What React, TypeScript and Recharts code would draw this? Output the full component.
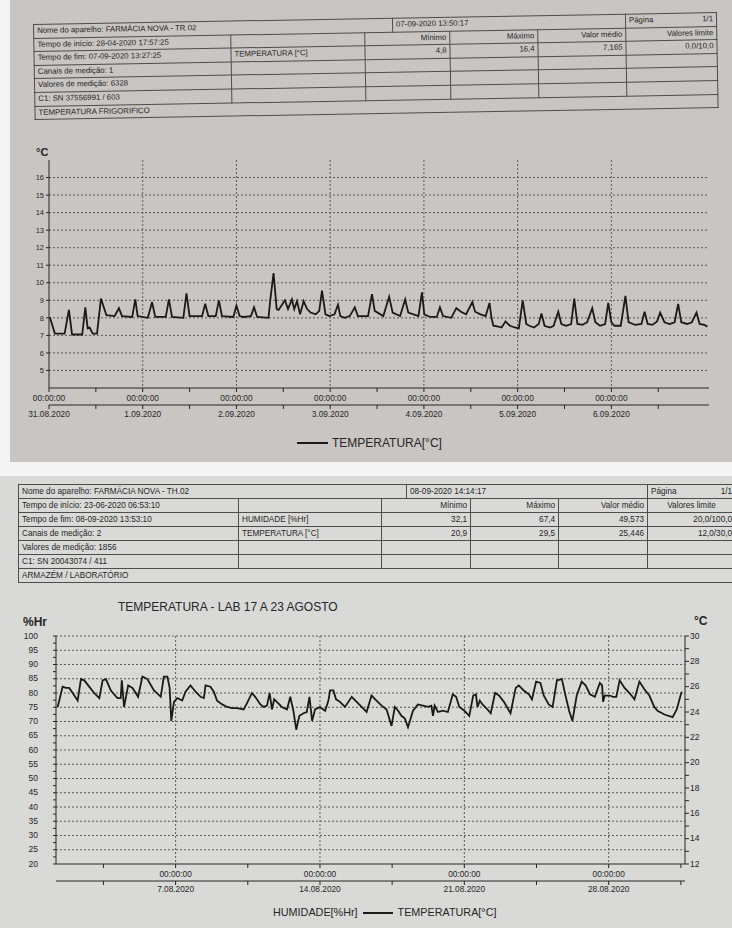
import React from 'react';
import { LineChart, Line, XAxis, YAxis, CartesianGrid } from 'recharts';

// ---------- report 1: FARMÁCIA NOVA - TR.02 (hours after 31.08.2020 00:00) ----------
const trHours = [0.2, 1.5, 4.0, 5.1, 5.9, 8.5, 9.3, 9.9, 10.4, 11.2, 12.3, 13.3, 14.7, 16.8, 17.9, 18.7, 21.3, 22.1, 22.7, 25.3, 26.4, 27.2, 29.9, 30.7, 31.5, 34.4, 35.2, 36.0, 39.2, 40.0, 40.8, 42.7, 43.5, 44.3, 47.2, 48.0, 48.8, 49.8, 51.7, 52.5, 53.3, 56.2, 56.7, 57.5, 58.3, 58.8, 60.4, 61.2, 62.2, 62.8, 63.5, 64.3, 65.2, 66.1, 67.0, 68.3, 69.2, 69.9, 70.8, 71.8, 73.1, 74.0, 74.6, 75.7, 77.0, 78.3, 79.1, 81.7, 82.7, 83.4, 85.6, 87.1, 88.0, 89.9, 91.2, 92.0, 94.6, 95.5, 96.1, 97.6, 99.3, 100.1, 100.9, 103.0, 104.3, 105.5, 106.8, 108.4, 109.1, 110.5, 111.8, 112.8, 113.3, 113.8, 115.1, 115.9, 116.9, 118.0, 119.3, 120.3, 121.3, 122.2, 123.0, 124.2, 125.4, 126.1, 126.9, 128.3, 129.2, 130.4, 131.2, 132.4, 133.7, 134.5, 135.3, 136.6, 137.8, 139.1, 139.9, 141.1, 142.4, 143.2, 144.0, 144.8, 146.4, 147.6, 148.4, 150.1, 151.7, 152.5, 153.3, 154.5, 155.7, 156.5, 157.6, 158.9, 160.2, 161.1, 161.9, 163.4, 164.6, 165.8, 166.6, 167.8, 168.6];
const trTemp = [8.05, 7.1, 7.1, 8.45, 7.05, 7.05, 8.6, 7.4, 7.45, 7.1, 7.1, 9.1, 8.15, 8.1, 8.55, 8.1, 8.05, 9.05, 8.1, 8.0, 8.9, 8.05, 8.05, 9.05, 8.05, 8.0, 9.4, 8.1, 8.1, 8.8, 8.1, 8.1, 9.0, 8.1, 8.05, 8.7, 8.1, 8.05, 8.1, 8.6, 8.05, 8.0, 9.1, 10.55, 8.5, 8.45, 9.0, 8.5, 9.05, 8.5, 8.95, 8.2, 8.95, 8.5, 8.3, 8.2, 8.4, 9.55, 8.2, 8.1, 8.2, 8.75, 8.1, 8.0, 8.1, 8.6, 8.1, 8.1, 9.35, 8.4, 8.1, 9.2, 8.3, 8.1, 9.05, 8.3, 8.1, 9.45, 8.2, 8.05, 8.05, 8.6, 8.1, 8.0, 8.55, 8.35, 8.2, 8.9, 8.35, 8.2, 8.1, 8.85, 8.0, 7.55, 7.5, 7.45, 7.8, 7.55, 7.45, 7.4, 9.0, 7.65, 7.55, 7.45, 7.65, 8.25, 7.55, 7.45, 7.55, 8.35, 7.65, 7.55, 7.65, 9.1, 7.65, 7.6, 7.75, 8.55, 7.75, 7.55, 7.65, 8.85, 7.75, 7.55, 7.55, 9.25, 7.75, 7.6, 7.65, 8.35, 7.65, 7.6, 7.8, 8.3, 7.75, 7.65, 7.75, 8.8, 7.75, 7.65, 7.75, 8.3, 7.65, 7.6, 7.5];
const trDayTicks = [0, 24, 48, 72, 96, 120, 144];
const trDayLabels = ['31.08.2020', '1.09.2020', '2.09.2020', '3.09.2020', '4.09.2020', '5.09.2020', '6.09.2020'];
const trHalfDayTicks = [0, 12, 24, 36, 48, 60, 72, 84, 96, 108, 120, 132, 144, 156];
const trTempTicks = [5, 6, 7, 8, 9, 10, 11, 12, 13, 14, 15, 16];

const trDevice = 'Nome do aparelho: FARMÁCIA NOVA - TR.02';
const trPrinted = '07-09-2020 13:50:17';
const trInfo = ['Tempo de início: 28-04-2020 17:57:25', 'Tempo de fim: 07-09-2020 13:27:25', 'Canais de medição: 1', 'Valores de medição: 6328', 'C1: SN 37556991 / 603'];
const trChannels = ['TEMPERATURA [°C]'];
const trStats = [['4,8', '16,4', '7,165', '0,0/10,0']];
const trFooter = 'TEMPERATURA FRIGORIFICO';

// ---------- report 2: FARMÁCIA NOVA - TH.02 (days after 1.08.2020 00:00) ----------
const thDays = [0.28, 0.52, 0.68, 0.84, 1.01, 1.25, 1.41, 1.57, 1.81, 2.05, 2.3, 2.46, 2.62, 2.86, 3.18, 3.34, 3.39, 3.5, 3.7, 3.91, 4.18, 4.39, 4.63, 4.95, 5.28, 5.43, 5.6, 5.71, 5.79, 5.92, 6.08, 6.32, 6.48, 6.72, 6.97, 7.21, 7.37, 7.45, 7.69, 7.85, 8.01, 8.26, 8.5, 8.74, 8.98, 9.3, 9.46, 9.7, 9.86, 10.11, 10.27, 10.43, 10.56, 10.67, 10.78, 10.91, 11.15, 11.4, 11.56, 11.64, 11.71, 11.85, 12.0, 12.2, 12.36, 12.49, 12.62, 12.76, 13.0, 13.25, 13.41, 13.49, 13.65, 13.78, 13.97, 14.21, 14.54, 14.78, 15.02, 15.26, 15.5, 15.74, 15.99, 16.23, 16.47, 16.63, 16.79, 16.95, 17.11, 17.27, 17.51, 17.75, 17.99, 18.24, 18.4, 18.48, 18.56, 18.72, 18.96, 19.2, 19.44, 19.6, 19.76, 20.0, 20.24, 20.43, 20.56, 20.64, 20.75, 20.88, 21.12, 21.28, 21.49, 21.68, 21.92, 22.24, 22.49, 22.64, 22.88, 23.13, 23.28, 23.48, 23.69, 23.85, 24.09, 24.28, 24.49, 24.73, 24.89, 25.08, 25.24, 25.45, 25.69, 25.88, 26.09, 26.33, 26.57, 26.68, 26.73, 26.81, 27.05, 27.21, 27.37, 27.53, 27.77, 28.01, 28.25, 28.49, 28.73, 28.97, 29.21, 29.37, 29.7, 30.1, 30.3, 30.5, 30.55];
const thTemp = [24.4, 26.0, 25.9, 25.9, 25.5, 24.9, 26.6, 26.5, 26.0, 25.5, 25.1, 26.5, 26.6, 25.7, 25.1, 25.1, 26.5, 24.4, 26.1, 25.9, 25.2, 26.8, 26.6, 25.7, 25.2, 26.8, 26.8, 25.9, 23.3, 24.8, 25.1, 24.9, 25.6, 26.1, 25.6, 25.2, 25.1, 26.1, 26.0, 25.6, 24.9, 24.6, 24.4, 24.3, 24.3, 24.2, 24.7, 25.5, 25.2, 24.6, 24.4, 24.5, 25.5, 24.2, 25.0, 24.8, 24.4, 24.2, 25.2, 24.6, 24.1, 22.6, 23.7, 23.9, 24.0, 25.2, 23.3, 24.2, 24.4, 24.1, 24.9, 25.7, 25.7, 25.0, 24.8, 24.4, 25.2, 24.8, 24.4, 24.0, 25.3, 24.9, 24.5, 24.2, 22.9, 24.4, 24.1, 23.7, 23.5, 22.8, 24.1, 24.6, 24.5, 24.4, 24.5, 23.7, 24.5, 24.0, 24.1, 24.0, 25.4, 25.2, 24.4, 24.1, 23.7, 25.3, 25.4, 24.4, 24.9, 24.6, 24.2, 23.9, 25.5, 25.3, 24.8, 23.9, 25.9, 26.1, 25.7, 25.4, 25.0, 26.4, 26.3, 25.3, 24.6, 24.4, 26.5, 26.6, 25.4, 24.1, 23.3, 25.3, 26.4, 26.1, 25.4, 25.2, 26.3, 26.1, 24.8, 25.3, 25.3, 25.2, 25.2, 26.5, 25.9, 25.5, 25.0, 26.4, 25.8, 25.3, 24.4, 24.1, 23.8, 23.6, 24.2, 25.4, 25.6];
const thWeekTicks = [6, 13, 20, 27];
const thWeekLabels = ['7.08.2020', '14.08.2020', '21.08.2020', '28.08.2020'];
const thHalfWeekTicks = [2.5, 6, 9.5, 13, 16.5, 20, 23.5, 27, 30.5];
const thHumTicks = [20, 22.5, 25, 27.5, 30, 32.5, 35, 37.5, 40, 42.5, 45, 47.5, 50, 52.5, 55, 57.5, 60, 62.5, 65, 67.5, 70, 72.5, 75, 77.5, 80, 82.5, 85, 87.5, 90, 92.5, 95, 97.5, 100];
const thHumGrid = [25, 30, 35, 40, 45, 50, 55, 60, 65, 70, 75, 80, 85, 90, 95, 100];
const thTempTicks = [12, 13, 14, 15, 16, 17, 18, 19, 20, 21, 22, 23, 24, 25, 26, 27, 28, 29, 30];

const thDevice = 'Nome do aparelho: FARMÁCIA NOVA - TH.02';
const thPrinted = '08-09-2020 14:14:17';
const thInfo = ['Tempo de início: 23-06-2020 06:53:10', 'Tempo de fim: 08-09-2020 13:53:10', 'Canais de medição: 2', 'Valores de medição: 1856', 'C1: SN 20043074 / 411'];
const thChannels = ['HUMIDADE [%Hr]', 'TEMPERATURA [°C]'];
const thStats = [['32,1', '67,4', '49,573', '20,0/100,0'], ['20,9', '29,5', '25,446', '12,0/30,0']];
const thFooter = 'ARMAZÉM / LABORATÓRIO';

const statHeads = ['Mínimo', 'Máximo', 'Valor médio', 'Valores limite'];

const INK = '#262626';
const GRID = '#5a5a5a';
const FONT = "'Liberation Sans', Arial, sans-serif";

const trData = trHours.map((h, i) => ({ h, t: trTemp[i] }));
const thData = thDays.map((d, i) => ({ d, t: thTemp[i] }));

interface ReportTableProps {
  left: number;
  top: number;
  rotate: number;
  cols: number[];
  rowH: number;
  fontSize: number;
  device: string;
  printed: string;
  info: string[];
  channels: string[];
  stats: string[][];
  footer: string;
  limitAlign: 'right' | 'center';
}

const ReportTable: React.FC<ReportTableProps> = ({ left, top, rotate, cols, rowH, fontSize, device, printed, info, channels, stats, footer, limitAlign }) => {
  const td: React.CSSProperties = {
    border: '1px solid #4d4d4d',
    padding: '0 3px',
    height: rowH - 1,
    lineHeight: `${rowH - 1}px`,
    whiteSpace: 'nowrap',
    overflow: 'hidden',
  };
  const right: React.CSSProperties = { ...td, textAlign: 'right' };
  const total = cols.reduce((a, b) => a + b, 0);

  return (
    <table
      style={{
        position: 'absolute', left, top, width: total, tableLayout: 'fixed', borderCollapse: 'collapse',
        fontFamily: FONT, fontSize, color: INK, transform: `rotate(${rotate}deg)`, transformOrigin: '0 0',
      }}
    >
      <colgroup>
        {cols.map((w, i) => <col key={i} style={{ width: w }} />)}
      </colgroup>
      <tbody>
        <tr>
          <td style={td} colSpan={3}>{device}</td>
          <td style={td} colSpan={3}>{printed}</td>
          <td style={td}>Página<span style={{ float: 'right' }}>1/1</span></td>
        </tr>
        {info.map((line, r) => {
          const channel = r === 0 ? '' : channels[r - 1] || '';
          const values = r === 0 ? statHeads : stats[r - 1] || ['', '', '', ''];
          return (
            <tr key={r}>
              <td style={td}>{line}</td>
              <td style={td}>{channel}</td>
              <td style={right} colSpan={2}>{values[0]}</td>
              <td style={right}>{values[1]}</td>
              <td style={right}>{values[2]}</td>
              <td style={{ ...td, textAlign: r === 0 ? limitAlign : 'right' }}>{values[3]}</td>
            </tr>
          );
        })}
        <tr>
          <td style={td} colSpan={7}>{footer}</td>
        </tr>
      </tbody>
    </table>
  );
};

const labelText = (x: number, y: number, text: string) => (
  <text x={x} y={y} dy="0.71em" textAnchor="middle" fontSize={8.3} fill={INK} fontFamily={FONT}>{text}</text>
);

const TrTimeTick = (props: any) => {
  const { x, y, payload } = props;
  if (!trDayTicks.includes(payload.value)) return <g />;
  return labelText(x, y, '00:00:00');
};

const TrDateTick = (props: any) => {
  const { x, y, payload } = props;
  const i = trDayTicks.indexOf(payload.value);
  if (i < 0) return <g />;
  return labelText(x, y, trDayLabels[i]);
};

const ThTimeTick = (props: any) => {
  const { x, y, payload } = props;
  if (!thWeekTicks.includes(payload.value)) return <g />;
  return labelText(x, y, '00:00:00');
};

const ThDateTick = (props: any) => {
  const { x, y, payload } = props;
  const i = thWeekTicks.indexOf(payload.value);
  if (i < 0) return <g />;
  return labelText(x, y, thWeekLabels[i]);
};

const HumTick = (props: any) => {
  const { x, y, payload } = props;
  if (payload.value % 5 !== 0) return <g />;
  return <text x={x} y={y} dy="0.32em" textAnchor="end" fontSize={8.5} fill={INK} fontFamily={FONT}>{payload.value}</text>;
};

const TempRightTick = (props: any) => {
  const { x, y, payload } = props;
  if (payload.value % 2 !== 0) return <g />;
  return <text x={x} y={y} dy="0.32em" textAnchor="start" fontSize={8.5} fill={INK} fontFamily={FONT}>{payload.value}</text>;
};

const TopChart: React.FC = () => (
  <div style={{ position: 'absolute', left: 0, top: 140 }}>
    <LineChart width={732} height={285} data={trData} margin={{ top: 20, right: 23, bottom: 0, left: 22 }}>
      <CartesianGrid
        xAxisId="a" yAxisId="y" stroke={GRID} strokeDasharray="2 2"
        horizontalValues={trTempTicks} verticalValues={trDayTicks.slice(1)}
      />
      <XAxis
        xAxisId="a" dataKey="h" type="number" domain={[0, 169]} ticks={trHalfDayTicks} interval={0}
        height={17} tickSize={4} tickMargin={3} tick={TrTimeTick} stroke={INK} allowDataOverflow
      />
      <XAxis
        xAxisId="b" dataKey="h" type="number" domain={[0, 169]} ticks={trHalfDayTicks} interval={0}
        height={20} tickSize={4} tickMargin={2} tick={TrDateTick} stroke={INK} allowDataOverflow
      />
      <YAxis
        yAxisId="y" type="number" domain={[4, 17]} ticks={trTempTicks} interval={0} width={27}
        tickSize={3} tickMargin={2} stroke={INK} allowDataOverflow
        tick={{ fontSize: 7.5, fill: INK, fontFamily: FONT }}
      />
      <Line
        xAxisId="a" yAxisId="y" dataKey="t" type="linear" dot={false}
        stroke="#1a1a1a" strokeWidth={1.8} isAnimationActive={false}
      />
    </LineChart>
  </div>
);

const BottomChart: React.FC = () => (
  <div style={{ position: 'absolute', left: 0, top: 615 }}>
    <LineChart width={732} height={286} data={thData} margin={{ top: 21, right: 22, bottom: 0, left: 20 }}>
      <CartesianGrid
        xAxisId="a" yAxisId="hr" stroke={GRID} strokeDasharray="2 2"
        horizontalValues={thHumGrid} verticalValues={thWeekTicks}
      />
      <XAxis
        xAxisId="a" dataKey="d" type="number" domain={[0.2, 30.7]} ticks={thHalfWeekTicks} interval={0}
        height={17} tickSize={4} tickMargin={3} tick={ThTimeTick} stroke={INK} allowDataOverflow
      />
      <XAxis
        xAxisId="b" dataKey="d" type="number" domain={[0.2, 30.7]} ticks={thHalfWeekTicks} interval={0}
        height={20} tickSize={4} tickMargin={1} tick={ThDateTick} stroke={INK} allowDataOverflow
      />
      <YAxis
        yAxisId="hr" type="number" domain={[20, 100]} ticks={thHumTicks} interval={0} width={36}
        tickSize={3} tickMargin={15} tick={HumTick} stroke={INK} allowDataOverflow
      />
      <YAxis
        yAxisId="c" orientation="right" type="number" domain={[12, 30]} ticks={thTempTicks} interval={0} width={25}
        tickSize={4} tickMargin={1} tick={TempRightTick} stroke={INK} allowDataOverflow
      />
      <Line
        xAxisId="a" yAxisId="c" dataKey="t" type="linear" dot={false}
        stroke="#1a1a1a" strokeWidth={1.8} isAnimationActive={false}
      />
    </LineChart>
  </div>
);

const abs = (left: number, top: number, extra: React.CSSProperties = {}): React.CSSProperties => ({
  position: 'absolute', left, top, color: INK, fontFamily: FONT, whiteSpace: 'nowrap', ...extra,
});

const App: React.FC = () => (
  <div style={{ position: 'absolute', left: 0, top: 0, width: 732, height: 928, overflow: 'hidden', background: '#f4f4f4' }}>
    {/* photo backgrounds */}
    <div style={{ position: 'absolute', left: 10, top: 0, width: 722, height: 462, background: '#c9c5c2' }} />
    <div style={{ position: 'absolute', left: 0, top: 476, width: 732, height: 452, background: '#d9d9d7' }} />

    <ReportTable
      left={33} top={24} rotate={-1} cols={[197, 134, 28, 57, 88, 88, 91]} rowH={13.6} fontSize={7.8}
      device={trDevice} printed={trPrinted} info={trInfo} channels={trChannels} stats={trStats}
      footer={trFooter} limitAlign="right"
    />
    <div style={abs(36, 146, { fontSize: 11, fontWeight: 'bold', lineHeight: '12px' })}>°C</div>
    <TopChart />
    <div style={abs(297, 436, { fontSize: 12, lineHeight: '14px', display: 'flex', alignItems: 'center' })}>
      <span style={{ display: 'inline-block', width: 31, borderTop: '2px solid #1a1a1a', marginRight: 4 }} />
      TEMPERATURA[°C]
    </div>

    <ReportTable
      left={18} top={484} rotate={0} cols={[220, 143, 25, 64, 88, 89, 88]} rowH={14} fontSize={8.2}
      device={thDevice} printed={thPrinted} info={thInfo} channels={thChannels} stats={thStats}
      footer={thFooter} limitAlign="center"
    />
    <div style={abs(118, 600, { fontSize: 12, lineHeight: '14px' })}>TEMPERATURA - LAB 17 A 23 AGOSTO</div>
    <div style={abs(23, 615, { fontSize: 12, fontWeight: 'bold', lineHeight: '14px' })}>%Hr</div>
    <div style={abs(694, 614, { fontSize: 12, fontWeight: 'bold', lineHeight: '14px' })}>°C</div>
    <BottomChart />
    <div style={abs(273, 906, { fontSize: 10.8, lineHeight: '13px', display: 'flex', alignItems: 'center' })}>
      HUMIDADE[%Hr]
      <span style={{ display: 'inline-block', width: 30, borderTop: '2px solid #1a1a1a', margin: '0 5px' }} />
      TEMPERATURA[°C]
    </div>
  </div>
);

export default App;
